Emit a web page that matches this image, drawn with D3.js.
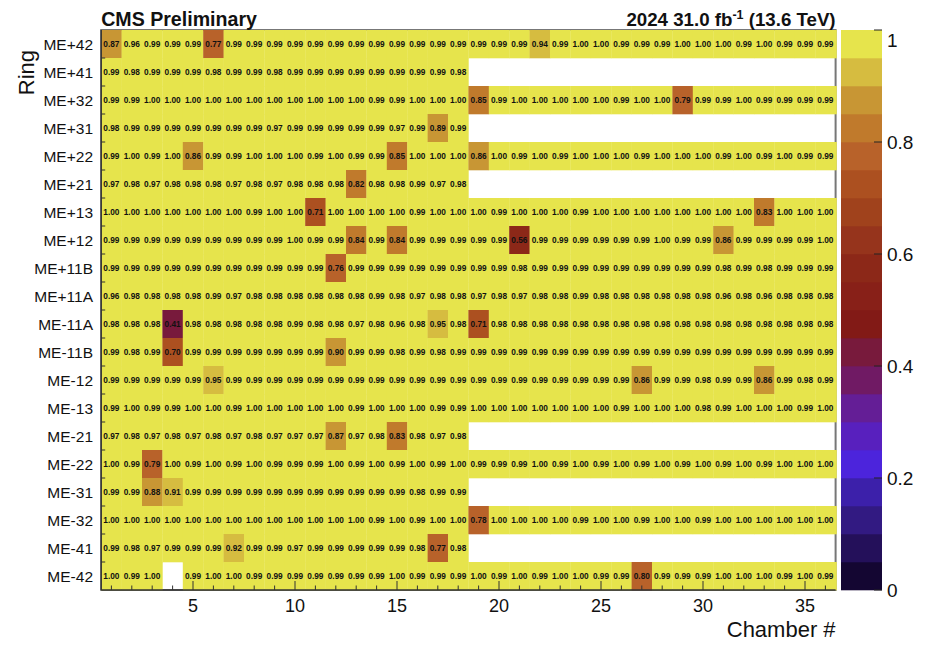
<!DOCTYPE html>
<html>
<head>
<meta charset="utf-8">
<script src="https://cdn.jsdelivr.net/npm/d3@7"></script>
<style>
  body { margin: 0; background: #fff; }
  text { font-family: "Liberation Sans", Arial, Helvetica, sans-serif; }
</style>
</head>
<body>
<div id="chart"></div>
<script>
var width = 932,
    height = 649;

// ring labels, top to bottom
var rings = ["ME+42", "ME+41", "ME+32", "ME+31", "ME+22", "ME+21", "ME+13", "ME+12", "ME+11B", "ME+11A",
  "ME-11A", "ME-11B", "ME-12", "ME-13", "ME-21", "ME-22", "ME-31", "ME-32", "ME-41", "ME-42"];

var chambers = d3.range(1, 37);
var xTicks = [5, 10, 15, 20, 25, 30, 35];
var zTicks = [0, 0.2, 0.4, 0.6, 0.8, 1];

// efficiency per chamber (null = no data)
var mePlus42 = [0.87,0.96,0.99,0.99,0.99,0.77,0.99,0.99,0.99,0.99,0.99,0.99,0.99,0.99,0.99,0.99,0.99,0.99,
  0.99,0.99,0.99,0.94,0.99,1.00,1.00,0.99,0.99,0.99,1.00,1.00,1.00,0.99,1.00,0.99,0.99,0.99];
var mePlus41 = [0.99,0.98,0.99,0.99,0.99,0.98,0.99,0.99,0.98,0.99,0.99,0.99,0.99,0.99,0.99,0.99,0.99,0.98];
var mePlus32 = [0.99,0.99,1.00,1.00,1.00,1.00,1.00,1.00,1.00,1.00,1.00,1.00,1.00,0.99,0.99,1.00,1.00,1.00,
  0.848,0.99,1.00,1.00,1.00,1.00,1.00,0.99,1.00,1.00,0.79,0.99,0.99,1.00,0.99,0.99,0.99,0.99];
var mePlus31 = [0.98,0.99,0.99,0.99,0.99,0.99,0.99,0.99,0.97,0.99,0.99,0.99,0.99,0.99,0.97,0.99,0.89,0.99];
var mePlus22 = [0.99,1.00,0.99,1.00,0.86,0.99,0.99,1.00,1.00,1.00,0.99,1.00,0.99,0.99,0.848,1.00,1.00,1.00,
  0.86,1.00,0.99,1.00,0.99,1.00,1.00,1.00,0.99,1.00,1.00,1.00,0.99,1.00,0.99,1.00,0.99,0.99];
var mePlus21 = [0.97,0.98,0.97,0.98,0.98,0.98,0.97,0.98,0.97,0.98,0.98,0.98,0.82,0.98,0.98,0.99,0.97,0.98];
var mePlus13 = [1.00,1.00,1.00,1.00,1.00,1.00,1.00,0.99,1.00,1.00,0.71,1.00,1.00,1.00,1.00,0.99,1.00,1.00,
  1.00,0.99,1.00,1.00,1.00,0.99,1.00,1.00,1.00,1.00,1.00,1.00,1.00,1.00,0.83,1.00,1.00,1.00];
var mePlus12 = [0.99,0.99,0.99,0.99,0.99,0.99,0.99,0.99,0.99,1.00,0.99,0.99,0.84,0.99,0.84,0.99,0.99,0.99,
  0.99,0.99,0.56,0.99,0.99,0.99,0.99,0.99,0.99,1.00,0.99,0.99,0.86,0.99,0.99,0.99,0.99,1.00];
var mePlus11B = [0.99,0.99,0.99,0.99,0.99,0.99,0.99,0.99,0.99,0.99,0.99,0.76,0.99,0.99,0.99,0.99,0.99,0.99,
  0.99,0.99,0.98,0.99,0.99,0.99,0.99,0.99,0.99,0.99,0.99,0.99,0.98,0.99,0.98,0.99,0.99,0.99];
var mePlus11A = [0.96,0.98,0.98,0.98,0.98,0.99,0.97,0.98,0.98,0.98,0.98,0.98,0.98,0.99,0.98,0.97,0.98,0.98,
  0.97,0.98,0.97,0.98,0.98,0.99,0.98,0.98,0.98,0.98,0.98,0.98,0.96,0.98,0.96,0.98,0.98,0.98];
var meMinus11A = [0.98,0.98,0.98,0.41,0.98,0.98,0.98,0.98,0.98,0.99,0.98,0.98,0.97,0.98,0.96,0.98,0.948,0.98,
  0.71,0.98,0.98,0.98,0.98,0.98,0.98,0.98,0.98,0.98,0.98,0.98,0.98,0.98,0.98,0.98,0.98,0.98];
var meMinus11B = [0.99,0.98,0.99,0.70,0.99,0.99,0.99,0.99,0.99,0.99,0.99,0.898,0.99,0.99,0.98,0.99,0.98,0.99,
  0.99,0.99,0.99,0.99,0.99,0.99,0.99,0.99,0.99,0.99,0.99,0.99,0.99,0.99,0.99,0.99,0.99,0.99];
var meMinus12 = [0.99,0.99,0.99,0.99,0.99,0.948,0.99,0.99,0.99,0.99,0.99,0.99,0.99,0.99,0.99,0.99,0.99,0.99,
  0.99,0.99,0.99,0.99,0.99,0.99,0.99,0.99,0.86,0.99,0.99,0.98,0.99,0.99,0.86,0.99,0.98,0.99];
var meMinus13 = [0.99,1.00,0.99,0.99,1.00,1.00,0.99,1.00,1.00,1.00,1.00,1.00,0.99,1.00,1.00,1.00,0.99,0.99,
  1.00,1.00,1.00,1.00,1.00,1.00,1.00,0.99,1.00,1.00,1.00,0.98,0.99,1.00,1.00,1.00,0.99,1.00];
var meMinus21 = [0.97,0.98,0.97,0.98,0.97,0.98,0.97,0.98,0.97,0.97,0.97,0.87,0.97,0.98,0.83,0.98,0.97,0.98];
var meMinus22 = [1.00,0.99,0.79,1.00,0.99,1.00,0.99,1.00,0.99,0.99,0.99,1.00,0.99,1.00,0.99,1.00,0.99,1.00,
  0.99,0.99,0.99,1.00,0.99,1.00,0.99,1.00,0.99,1.00,0.99,1.00,0.99,1.00,0.99,1.00,1.00,1.00];
var meMinus31 = [0.99,0.99,0.88,0.91,0.99,0.99,0.99,0.99,0.99,0.99,0.99,0.99,0.99,0.99,0.99,0.98,0.99,0.99];
var meMinus32 = [1.00,1.00,1.00,1.00,1.00,1.00,1.00,1.00,1.00,1.00,1.00,1.00,1.00,0.99,1.00,0.99,1.00,1.00,
  0.78,1.00,1.00,1.00,1.00,0.99,1.00,1.00,0.99,1.00,1.00,0.99,1.00,1.00,1.00,1.00,1.00,1.00];
var meMinus41 = [0.99,0.98,0.97,0.99,0.99,0.99,0.92,0.99,0.99,0.97,0.99,0.99,0.99,0.99,0.99,0.98,0.77,0.98];
var meMinus42 = [1.00,0.99,1.00,null,0.99,1.00,1.00,0.99,0.99,0.99,0.99,0.99,0.99,0.99,1.00,0.99,0.99,0.99,
  1.00,0.99,1.00,0.99,1.00,1.00,0.99,0.99,0.798,0.99,0.99,0.99,1.00,1.00,1.00,0.99,1.00,0.99];

var rowValues = [mePlus42, mePlus41, mePlus32, mePlus31, mePlus22, mePlus21, mePlus13, mePlus12, mePlus11B, mePlus11A,
  meMinus11A, meMinus11B, meMinus12, meMinus13, meMinus21, meMinus22, meMinus31, meMinus32, meMinus41, meMinus42];

// 20-step palette, low to high
var palette = ["#140632", "#24105a", "#321a82", "#3c20aa", "#4c24dc", "#5820be", "#641e96", "#701a64",
  "#781a3c", "#821a16", "#882018", "#8c2818", "#96341c", "#a0421c", "#ac5020", "#b8622a",
  "#c07a2c", "#c89634", "#d6bc40", "#e6e44c"];

var margin = {left: 101.2, right: 835.6, top: 30, bottom: 590};

var x = d3.scaleLinear().domain([0.5, 36.5]).range([margin.left, margin.right]);
var y = d3.scaleBand().domain(rings).range([margin.top, margin.bottom]).paddingInner(0).paddingOuter(0);
var z = d3.scaleLinear().domain([0, 1]).range([margin.bottom, margin.top]);
var color = d3.scaleQuantize().domain([0, 1]).range(palette);
var fmt = d3.format(".2f");

var cells = [];
rowValues.forEach(function(vals, r) {
  vals.forEach(function(v, i) {
    if (v !== null) cells.push({ring: rings[r], chamber: chambers[i], value: v});
  });
});

var svg = d3.select("#chart").append("svg")
  .attr("width", width)
  .attr("height", height)
  .style("background", "#fff");

// frame (mostly hidden under the boxes)
svg.append("rect")
  .attr("x", margin.left)
  .attr("y", margin.top)
  .attr("width", margin.right - margin.left)
  .attr("height", margin.bottom - margin.top)
  .attr("fill", "none")
  .attr("stroke", "#777")
  .attr("stroke-width", 2);

var cell = svg.append("g").selectAll("g")
  .data(cells)
  .enter().append("g");

cell.append("rect")
  .attr("x", function(d) { return x(d.chamber - 0.5); })
  .attr("y", function(d) { return y(d.ring); })
  .attr("width", function(d) { return x(d.chamber + 0.5) - x(d.chamber - 0.5) + (d.chamber === 36 ? 1.2 : 0.3); })
  .attr("height", y.bandwidth() + 0.3)
  .attr("fill", function(d) { return color(d.value); });

cell.append("text")
  .attr("x", function(d) { return x(d.chamber); })
  .attr("y", function(d) { return y(d.ring) + y.bandwidth() / 2; })
  .attr("dy", "0.36em")
  .attr("text-anchor", "middle")
  .style("font-size", "8.3px")
  .style("font-weight", "bold")
  .style("fill", "#111")
  .text(function(d) { return fmt(d.value); });

// y axis line + ticks at ring boundaries
svg.append("line")
  .attr("x1", margin.left).attr("x2", margin.left)
  .attr("y1", margin.top).attr("y2", margin.bottom)
  .attr("stroke", "#333").attr("stroke-width", 1.5);

svg.append("g").selectAll("line")
  .data(rings.slice(1))
  .enter().append("line")
  .attr("x1", margin.left).attr("x2", margin.left + 4)
  .attr("y1", function(d) { return y(d); })
  .attr("y2", function(d) { return y(d); })
  .attr("stroke", "#333");

svg.append("g").selectAll("text")
  .data(rings)
  .enter().append("text")
  .attr("x", 93)
  .attr("y", function(d) { return y(d) + y.bandwidth() / 2; })
  .attr("dy", "0.36em")
  .attr("text-anchor", "end")
  .style("font-size", "15.5px")
  .style("fill", "#111")
  .text(function(d) { return d; });

svg.append("text")
  .attr("transform", "translate(34,50) rotate(-90)")
  .attr("text-anchor", "end")
  .style("font-size", "22px")
  .style("fill", "#111")
  .text("Ring");

// x axis
svg.append("line")
  .attr("x1", margin.left).attr("x2", margin.right)
  .attr("y1", margin.bottom).attr("y2", margin.bottom)
  .attr("stroke", "#333").attr("stroke-width", 1.5);

svg.append("g").selectAll("line")
  .data(chambers)
  .enter().append("line")
  .attr("x1", function(d) { return x(d); })
  .attr("x2", function(d) { return x(d); })
  .attr("y1", margin.bottom)
  .attr("y2", function(d) { return d % 5 === 0 ? margin.bottom - 9 : margin.bottom - 4.5; })
  .attr("stroke", "#333");

svg.append("g").selectAll("text")
  .data(xTicks)
  .enter().append("text")
  .attr("x", function(d) { return x(d); })
  .attr("y", 612)
  .attr("text-anchor", "middle")
  .style("font-size", "18px")
  .style("fill", "#111")
  .text(function(d) { return d; });

svg.append("text")
  .attr("x", margin.right)
  .attr("y", 637)
  .attr("text-anchor", "end")
  .style("font-size", "22px")
  .style("fill", "#111")
  .text("Chamber #");

// titles
svg.append("text")
  .attr("x", margin.left)
  .attr("y", 26)
  .style("font-size", "19.6px")
  .style("font-weight", "bold")
  .style("fill", "#111")
  .text("CMS Preliminary");

var lumi = svg.append("text")
  .attr("x", margin.right)
  .attr("y", 26)
  .attr("text-anchor", "end")
  .style("font-size", "18.7px")
  .style("font-weight", "bold")
  .style("fill", "#111");
lumi.append("tspan").text("2024 31.0 fb");
lumi.append("tspan").attr("dy", -7).style("font-size", "12.5px").text("-1");
lumi.append("tspan").attr("dy", 7).text(" (13.6 TeV)");

// colour bar
var barX = 841, barW = 41;
svg.append("g").selectAll("rect")
  .data(palette)
  .enter().append("rect")
  .attr("x", barX)
  .attr("y", function(d, i) { return z((i + 1) / palette.length); })
  .attr("width", barW)
  .attr("height", function(d, i) { return z(i / palette.length) - z((i + 1) / palette.length) + 0.3; })
  .attr("fill", function(d) { return d; });

svg.append("g").selectAll("line")
  .data(zTicks)
  .enter().append("line")
  .attr("x1", barX + barW - 8).attr("x2", barX + barW)
  .attr("y1", function(d) { return z(d); })
  .attr("y2", function(d) { return z(d); })
  .attr("stroke", "#222");

svg.append("g").selectAll("text")
  .data(zTicks)
  .enter().append("text")
  .attr("x", 887)
  .attr("y", function(d) { return d === 1 ? z(d) + 10 : z(d); })
  .attr("dy", "0.36em")
  .style("font-size", "19px")
  .style("fill", "#111")
  .text(function(d) { return d3.format("")(d); });
</script>
</body>
</html>
